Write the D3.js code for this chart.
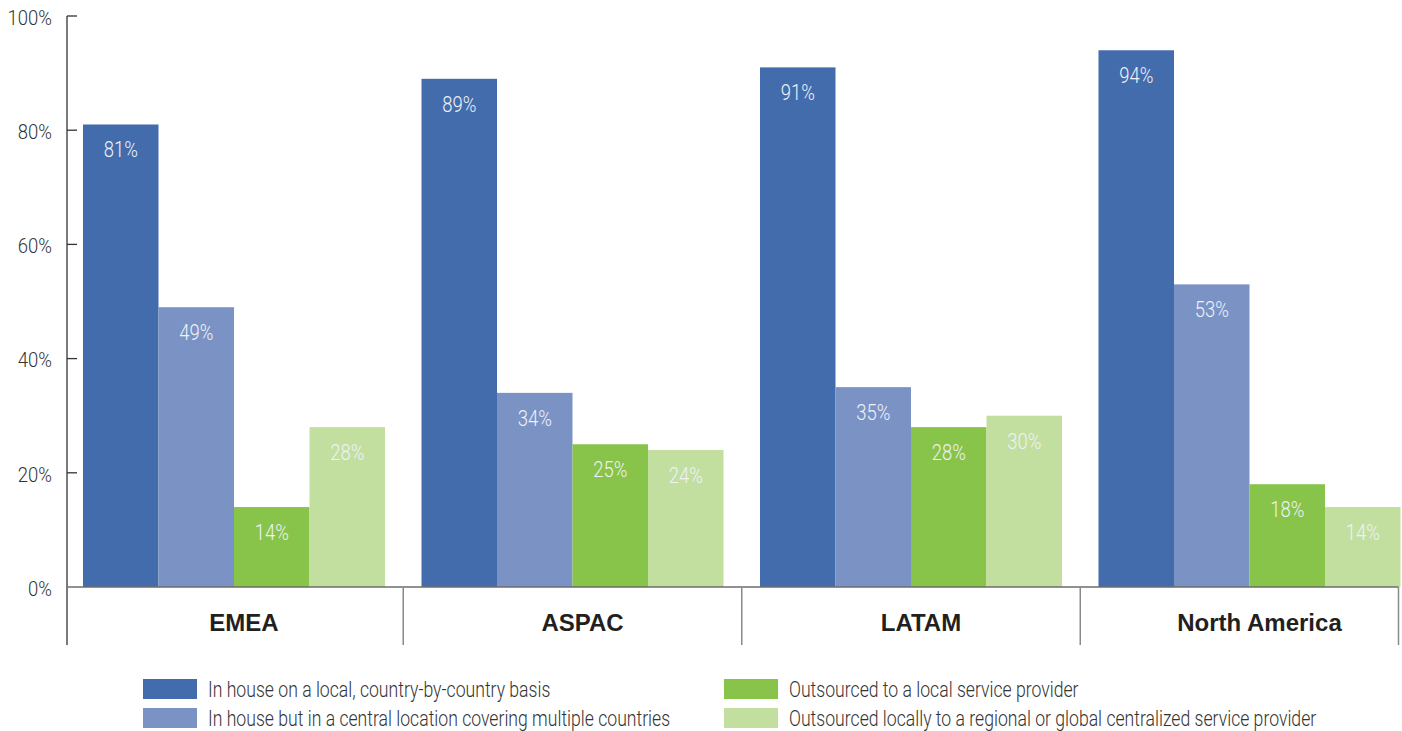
<!DOCTYPE html>
<html>
<head>
<meta charset="utf-8">
<script src="https://cdn.jsdelivr.net/npm/d3@7"></script>
<style>
  body { margin: 0; background: #fff; }
  .narrow { font-family: Roboto, "Liberation Sans", sans-serif; font-weight: 300; }
  .cat-label { font-family: "Liberation Sans", Arial, sans-serif; font-weight: bold; }
</style>
</head>
<body>
<svg id="chart"></svg>
<script>
const regions = ['EMEA', 'ASPAC', 'LATAM', 'North America'];
const seriesNames = [
  'In house on a local, country-by-country basis',
  'In house but in a central location covering multiple countries',
  'Outsourced to a local service provider',
  'Outsourced locally to a regional or global centralized service provider'
];
const seriesColors = ['#436cac', '#7b93c4', '#88c34a', '#c2dfa0'];
// values per region, in series order
const inHouseLocal = [81, 89, 91, 94];
const inHouseCentral = [49, 34, 35, 53];
const outsourcedLocal = [14, 25, 28, 18];
const outsourcedCentral = [28, 24, 30, 14];
const yTicks = [0, 20, 40, 60, 80, 100];

const width = 1402, height = 731;
const margin = { top: 16, left: 67, bottom: 144 };

const svg = d3.select('#chart')
  .attr('width', width)
  .attr('height', height);

const seriesValues = [inHouseLocal, inHouseCentral, outsourcedLocal, outsourcedCentral];
const data = regions.map((r, i) => ({
  region: r,
  values: seriesValues.map((s, j) => ({ key: j, value: s[i] }))
}));

const y = d3.scaleLinear()
  .domain([0, 100])
  .range([height - margin.bottom, margin.top]);

const x0 = d3.scaleBand()
  .domain(regions)
  .range([margin.left, 1421]);

const x1 = d3.scaleBand()
  .domain(d3.range(seriesNames.length))
  .range([16, 318]);

const baseY = y(0);
const gapHalf = (x0.step() - x1.range()[1] + x1.range()[0]) / 2;
const rightEnd = x0(regions[regions.length - 1]) + x1.range()[1] - 2;

// the original uses a condensed face; squeeze Roboto horizontally instead
const at = (px, py, sx) => `translate(${px},${py}) scale(${sx},1)`;

// bars
const groups = svg.selectAll('.group')
  .data(data)
  .join('g')
    .attr('class', 'group')
    .attr('transform', d => `translate(${x0(d.region)},0)`);

groups.selectAll('rect')
  .data(d => d.values)
  .join('rect')
    .attr('x', d => x1(d.key))
    .attr('y', d => y(d.value))
    .attr('width', x1.bandwidth())
    .attr('height', d => baseY - y(d.value))
    .attr('fill', d => seriesColors[d.key]);

groups.selectAll('.val')
  .data(d => d.values)
  .join('text')
    .attr('class', 'val narrow')
    .attr('transform', d => at(x1(d.key) + x1.bandwidth() / 2, y(d.value) + 33, 0.84))
    .attr('text-anchor', 'middle')
    .attr('font-size', 22)
    .attr('fill', '#eef2f8')
    .text(d => d.value + '%');

// y axis
svg.append('line')
  .attr('x1', margin.left).attr('x2', margin.left)
  .attr('y1', y(100)).attr('y2', baseY + 58)
  .attr('stroke', '#333').attr('stroke-width', 1.3);

svg.selectAll('.ytick')
  .data(yTicks.filter(t => t > 0))
  .join('line')
    .attr('class', 'ytick')
    .attr('x1', margin.left).attr('x2', margin.left + 10)
    .attr('y1', d => y(d)).attr('y2', d => y(d))
    .attr('stroke', '#333').attr('stroke-width', 1.3);

svg.selectAll('.ylabel')
  .data(yTicks)
  .join('text')
    .attr('class', 'ylabel narrow')
    .attr('transform', d => at(52, y(d), 0.88))
    .attr('dy', '0.42em')
    .attr('text-anchor', 'end')
    .attr('font-size', 21)
    .attr('fill', '#333')
    .text(d => d + '%');

// baseline and separators
svg.append('line')
  .attr('x1', margin.left).attr('x2', rightEnd)
  .attr('y1', baseY).attr('y2', baseY)
  .attr('stroke', '#6d6d6d').attr('stroke-width', 1.5);

const sepX = regions.slice(1).map(r => x0(r) + x1.range()[0] - gapHalf).concat([rightEnd]);
svg.selectAll('.sep')
  .data(sepX)
  .join('line')
    .attr('class', 'sep')
    .attr('x1', d => d).attr('x2', d => d)
    .attr('y1', baseY).attr('y2', baseY + 58)
    .attr('stroke', '#8a8a8a').attr('stroke-width', 1.5);

svg.selectAll('.cat-label')
  .data(regions)
  .join('text')
    .attr('class', 'cat-label')
    .attr('x', d => x0(d) + (x1.range()[0] + x1.range()[1]) / 2 + 10)
    .attr('y', baseY + 44)
    .attr('text-anchor', 'middle')
    .attr('font-size', 24)
    .attr('fill', '#231f20')
    .text(d => d);

// legend
const legend = svg.append('g').attr('class', 'legend');
const legendItems = legend.selectAll('g')
  .data(seriesNames.map((name, i) => ({ name, i })))
  .join('g')
    .attr('transform', d => `translate(${d.i < 2 ? 143 : 724},${679 + (d.i % 2) * 29})`);

legendItems.append('rect')
  .attr('width', 54)
  .attr('height', 20)
  .attr('fill', d => seriesColors[d.i]);

legendItems.append('text')
  .attr('class', 'narrow')
  .attr('transform', at(65, 18, 0.82))
  .attr('font-size', 21.5)
  .attr('fill', '#333')
  .text(d => d.name);
</script>
</body>
</html>
